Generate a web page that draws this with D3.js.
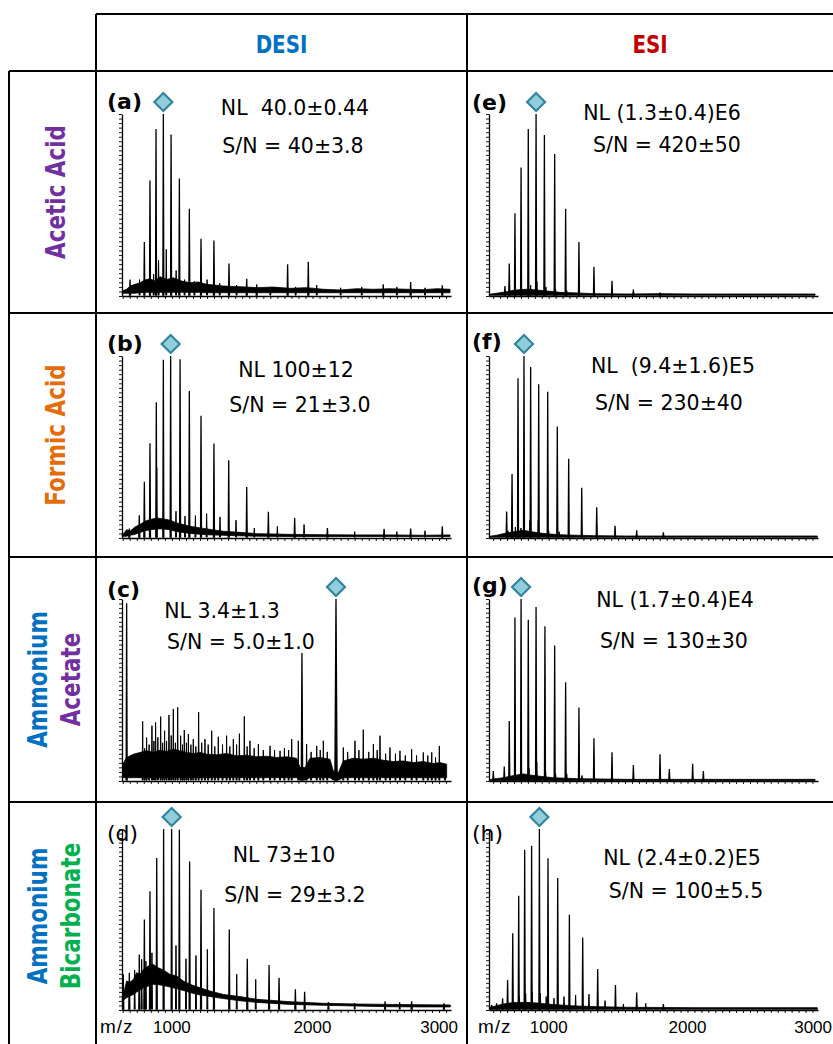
<!DOCTYPE html>
<html>
<head>
<meta charset="utf-8">
<script src="https://cdn.jsdelivr.net/npm/d3@7"></script>
<style>
  body { margin: 0; background: #fff; }
  svg { display: block; }
</style>
</head>
<body>
<svg id="chart" width="833" height="1044"></svg>
<script>
// ---- data (m/z, relative intensity %) ----
const columns = ['DESI', 'ESI'];
const rowLabels = [['Acetic Acid'], ['Formic Acid'], ['Ammonium', 'Acetate'], ['Ammonium', 'Bicarbonate']];
const xTickLabels = [1000, 2000, 3000];

// main charge-state peaks: [m/z, intensity, base width in m/z (optional)]
const peaksA = [[702, 9.1], [804, 29.6], [844, 63.4], [887, 91.8], [939, 100], [994, 88.7], [1053, 64.5], [1124, 47.9], [1207, 31.4], [1299, 30.5], [1406, 17.9], [1532, 9.5], [1603, 6.4], [1823, 17.4], [1970, 18.8], [2503, 6.4], [2698, 7.7], [2923, 5.9]];
const peaksB = [[697, 5.2], [768, 12.5], [804, 30.9], [844, 52.1], [889, 74.6], [939, 98], [991, 100], [1058, 98.2], [1124, 80.8], [1207, 67.2], [1299, 51.9], [1404, 42.7], [1532, 28], [1686, 14.4], [1873, 11], [2106, 5.5], [2509, 5], [2698, 5.2], [2923, 6.4]];
const peaksC = [[678, 97.6], [1925, 70.3, 10], [2167, 100, 16]];
const peaksD = [[654, 19.7], [697, 20.6], [768, 30.7], [804, 50], [844, 65.6], [892, 84], [941, 100], [998, 100], [1053, 99.6], [1126, 82], [1207, 66.5], [1299, 56.4], [1408, 44.5], [1536, 28.3], [1691, 24.8], [1762, 17.8], [1878, 11.4], [1944, 10.1], [2113, 4.4], [2516, 4.8], [2705, 4.8], [2935, 3.7]];
const peaksE = [[685, 5.5], [716, 17.8], [757, 45.5], [801, 70.6], [853, 91.7], [909, 100], [969, 88.4], [1043, 78], [1122, 48], [1218, 29.7], [1326, 16], [1456, 8.3], [1610, 3.5], [1802, 1.8]];
const peaksF = [[697, 14.5], [736, 35.1], [779, 87.8], [822, 100], [870, 94], [928, 84.5], [993, 80.4], [1062, 61.3], [1144, 43.6], [1238, 27.6], [1346, 16.9], [1478, 6.7], [1634, 4.2], [1826, 3.1]];
const peaksG = [[601, 5.5], [680, 7.9], [716, 33], [757, 89.9], [801, 100], [853, 88.6], [909, 95.6], [973, 85], [1043, 74.5], [1122, 54.3], [1218, 40.4], [1326, 23.5], [1456, 15.8], [1610, 8.8], [1802, 14.7], [1869, 6.6], [2037, 9.4], [2114, 5.5]];
const peaksH = [[589, 2.8], [625, 3.7], [668, 6.5], [704, 16.6], [741, 42.4], [784, 63.1], [827, 88.6], [877, 90.8], [933, 100], [995, 83.9], [1065, 72.9], [1149, 52.6], [1245, 40], [1353, 22.7], [1481, 13.8], [1634, 9.6], [1826, 3.3]];

// smaller adduct / noise spikes: [m/z, intensity]
const spikesA = [[770, 9], [870, 12], [905, 19.6], [960, 25.6], [1030, 14], [1090, 9], [1160, 8], [1250, 9], [1340, 7], [1460, 6], [1700, 5], [1880, 5], [2030, 6], [2200, 4.5], [2350, 5], [2600, 5], [2800, 4.5]];
const spikesB = [[892, 38.7], [1029, 14.7], [1093, 12], [1167, 12.3], [1247, 13.4], [1342, 11.6], [1456, 9.8], [1586, 5.5], [1750, 6.4], [1940, 7.4], [2300, 3.5], [2600, 3.5], [2800, 4]];
const spikesC = [[792, 32.8], [806, 18], [820, 23.9], [838, 20], [858, 30.4], [872, 22], [884, 32.2], [900, 24], [920, 35.4], [934, 21], [948, 27.6], [962, 22], [979, 36.3], [995, 25], [1010, 39.6], [1025, 21], [1041, 40.5], [1062, 24.9], [1075, 20], [1088, 28], [1103, 21], [1117, 25.8], [1135, 20], [1152, 23], [1170, 19], [1190, 37.8], [1212, 21], [1235, 23], [1258, 20], [1283, 27.6], [1305, 19], [1330, 24.3], [1360, 20], [1389, 24.9], [1412, 19], [1437, 23], [1460, 20], [1480, 26], [1515, 35.5], [1535, 19], [1555, 22.1], [1585, 18], [1615, 20.3], [1650, 17], [1698, 19.3], [1730, 17], [1769, 16.6], [1800, 18], [1830, 17], [1852, 23], [1899, 22.1], [1958, 20.3], [1990, 16], [2030, 19.3], [2055, 17], [2077, 22.1], [2105, 16], [2219, 18.4], [2250, 16], [2302, 22.1], [2330, 17], [2361, 28.2], [2400, 16], [2433, 20.3], [2460, 17], [2480, 24.9], [2520, 15], [2551, 18.4], [2590, 15], [2622, 16.6], [2660, 14], [2705, 17.5], [2740, 14], [2788, 15.7], [2820, 14], [2848, 15.7], [2875, 13], [2902, 19.3], [2942, 8.3]];
const spikesD = [[735, 22], [785, 28], [815, 27], [858, 31.6], [1029, 35.7], [1100, 28.3], [1171, 30.1], [1252, 33.5], [1461, 19.7], [1596, 16.9], [2300, 3.8], [2620, 4.2]];
const spikesE = [[870, 6], [915, 8], [980, 5], [1050, 3.5], [1130, 3]];
const spikesF = [[706, 4], [760, 6], [800, 5.5], [865, 9.6], [925, 9.6], [1000, 4], [1075, 3.5]];
const spikesG = [[858, 7], [914, 10.6], [978, 5], [1050, 4], [1130, 4], [1240, 3]];
const spikesH = [[789, 7.4], [834, 9.2], [880, 10], [940, 9.2], [982, 7.4], [1038, 6.5], [1110, 7.4], [1194, 8.3], [1290, 8.7], [1406, 5.2], [1538, 3.3], [1699, 3.7]];

// chemical-noise band: [m/z, lower %, upper %]
const noiseA = [[647, 1.5, 2.7], [678, 1.5, 3.7], [702, 1.5, 5.5], [737, 1.5, 6.4], [773, 1.8, 7.3], [809, 2, 8.8], [844, 2, 9.5], [880, 2, 8.2], [915, 2, 10.6], [963, 2, 9.1], [1010, 2, 10], [1069, 2, 8.2], [1129, 2, 7.3], [1188, 2, 7.7], [1247, 1.8, 6.4], [1318, 1.8, 5.9], [1366, 1.8, 5.5], [1484, 1.8, 5.1], [1603, 1.8, 4.6], [1721, 1.8, 4.9], [1840, 1.8, 4.2], [1958, 1.8, 4.6], [2077, 1.8, 3.7], [2196, 1.8, 3.3], [2314, 1.8, 4], [2433, 1.8, 3.7], [2551, 1.8, 4], [2670, 1.8, 3.7], [2788, 1.8, 3.5], [2883, 1.8, 4], [2978, 1.8, 3.7]];
const noiseB = [[647, 0.8, 1.5], [678, 1, 4.6], [702, 1.5, 3.7], [737, 2, 6.1], [773, 3, 7.4], [809, 4, 9.2], [844, 4.5, 10.1], [892, 5, 11], [939, 5, 10.5], [986, 4.5, 9.8], [1034, 3.5, 8.3], [1081, 3, 7.4], [1129, 2.5, 6.4], [1247, 1.8, 5], [1366, 1.5, 3.7], [1484, 1.2, 3.1], [1603, 1, 2.4], [1840, 0.8, 2], [2077, 0.8, 1.8], [2314, 0.8, 1.7], [2551, 0.8, 1.7], [2788, 0.8, 1.5], [2978, 0.8, 1.7]];
const noiseC = [[650, 1.8, 9.2], [678, 1.8, 12.9], [726, 1.8, 14.7], [773, 1.8, 15.7], [820, 1.8, 16.6], [868, 1.8, 15.7], [915, 1.8, 16.9], [963, 1.8, 16.2], [1010, 1.8, 17.5], [1058, 1.8, 16.6], [1105, 1.8, 15.7], [1152, 1.8, 15.1], [1200, 1.8, 15.7], [1247, 1.8, 14.7], [1318, 1.8, 14.4], [1389, 1.8, 15.1], [1461, 1.8, 13.8], [1532, 1.8, 14.2], [1603, 1.8, 13.3], [1674, 1.8, 13.6], [1745, 1.8, 12.9], [1816, 1.8, 13.3], [1887, 1.8, 12.5], [1911, 0.5, 7.4], [1947, 0.5, 7.4], [1982, 1.8, 12.5], [2053, 1.8, 12.9], [2124, 1.8, 12], [2148, 0.5, 5.5], [2184, 0.5, 4.6], [2219, 1.8, 11], [2290, 1.8, 12.5], [2361, 1.8, 12], [2433, 1.8, 12.5], [2504, 1.8, 11.4], [2575, 1.8, 10.7], [2646, 1.8, 11], [2717, 1.8, 10.1], [2788, 1.8, 10.7], [2859, 1.8, 9.6], [2907, 1.8, 10.1], [2954, 1.8, 9.2]];
const noiseD = [[647, 5, 5.9], [678, 6.8, 16], [702, 7.7, 15.4], [726, 8.6, 16.9], [749, 9.9, 20.6], [773, 11, 19.7], [797, 12.3, 22.4], [832, 13.2, 24.3], [868, 14.2, 25.2], [903, 14, 23.3], [939, 13.6, 22.1], [986, 12.7, 19.7], [1034, 11.8, 18.8], [1081, 10.8, 16], [1129, 9.6, 14.2], [1200, 8.3, 12.3], [1271, 7.4, 10.5], [1366, 6.3, 8.6], [1484, 5.1, 7.4], [1603, 4.2, 5.9], [1840, 3.1, 4.6], [2077, 2.6, 3.7], [2314, 2.2, 3.3], [2551, 1.8, 3.1], [2788, 1.7, 2.9], [2980, 1.7, 2.8]];
const noiseE = [[572, 0.4, 0.9], [601, 0.4, 1.3], [649, 0.4, 1.8], [697, 0.4, 2.4], [745, 0.4, 3.1], [793, 0.4, 3.5], [841, 0.4, 3.7], [889, 0.4, 3.5], [937, 0.4, 3.1], [1009, 0.4, 2.6], [1082, 0.4, 2], [1202, 0.4, 1.7], [1322, 0.4, 1.3], [1562, 0.4, 1.1], [1802, 0.4, 1.3], [2042, 0.4, 1.1], [2282, 0.4, 1.1], [2522, 0.4, 1.1], [2763, 0.4, 1.1], [2919, 0.4, 1.1]];
const noiseF = [[572, 0.4, 0.9], [625, 0.4, 1.5], [673, 0.4, 2.4], [721, 0.4, 3.1], [769, 0.4, 3.6], [817, 0.4, 4.2], [865, 0.4, 3.6], [937, 0.4, 2.7], [1009, 0.4, 2.2], [1082, 0.4, 1.8], [1202, 0.4, 1.5], [1322, 0.4, 1.3], [1562, 0.4, 1.1], [2042, 0.4, 1.1], [2522, 0.4, 1.1], [2935, 0.4, 1.1]];
const noiseG = [[572, 0.3, 0.6], [601, 0.3, 1.1], [673, 0.3, 1.8], [721, 0.3, 2.6], [769, 0.3, 3.3], [817, 0.3, 3.9], [865, 0.3, 3.3], [937, 0.3, 2.6], [1033, 0.3, 1.8], [1202, 0.3, 1.3], [1562, 0.3, 0.9], [2042, 0.3, 0.9], [2522, 0.3, 0.9], [2919, 0.3, 0.9]];
const noiseH = [[577, 0.4, 1.5], [625, 0.4, 2.4], [673, 0.4, 3.3], [721, 0.4, 3.9], [769, 0.4, 4.2], [841, 0.4, 4.2], [913, 0.4, 3.9], [985, 0.4, 3.3], [1082, 0.4, 2.8], [1202, 0.4, 2.2], [1370, 0.4, 1.8], [1562, 0.4, 1.5], [2042, 0.4, 1.3], [2522, 0.4, 1.3], [2935, 0.4, 1.3]];

const panelLetters = ['a', 'b', 'c', 'd', 'e', 'f', 'g', 'h'];
const nlTexts = ['NL  40.0±0.44', 'NL 100±12', 'NL 3.4±1.3', 'NL 73±10', 'NL (1.3±0.4)E6', 'NL  (9.4±1.6)E5', 'NL (1.7±0.4)E4', 'NL (2.4±0.2)E5'];
const snTexts = ['S/N = 40±3.8', 'S/N = 21±3.0', 'S/N = 5.0±1.0', 'S/N = 29±3.2', 'S/N = 420±50', 'S/N = 230±40', 'S/N = 130±30', 'S/N = 100±5.5'];
const diamondMz = [939, 991, 2167, 998, 909, 822, 801, 933];
const allPeaks = [peaksA, peaksB, peaksC, peaksD, peaksE, peaksF, peaksG, peaksH];
const allSpikes = [spikesA, spikesB, spikesC, spikesD, spikesE, spikesF, spikesG, spikesH];
const allNoise = [noiseA, noiseB, noiseC, noiseD, noiseE, noiseF, noiseG, noiseH];

// ---- layout ----
const gridX = [9, 96, 467];
const W = 833, H = 1044;
const headerTop = 14, headerBottom = 71;
const rowLines = [313, 557, 802];
const axisBase = [296, 538, 781, 1010];
const axisTop = [114, 356, 599, 829];
const colAxis = [{ x0: 122, x1: 451, dom: [645, 2985] }, { x0: 489, x1: 818, dom: [570, 2940] }];
// text anchors per panel: [letterX, letterY, nlX, nlY, snX, snY]
const textPos = [
  [107, 109, 295, 115, 293, 153],
  [107, 351, 296, 377, 300, 412],
  [107, 597, 222, 618, 241, 649],
  [107, 841, 284, 862, 295, 902],
  [472, 110, 662, 120, 667, 152],
  [472, 349, 673, 373, 669, 410],
  [472, 593, 675, 607, 674, 648],
  [472, 841, 682, 865, 686, 898],
];
const rowColors = [['#7030a0'], ['#e46c0a'], ['#0070c0', '#7030a0'], ['#0070c0', '#00b050']];
const colColors = ['#0070c0', '#c00000'];
const labelFont = '"DejaVu Sans Condensed", "Liberation Sans Narrow", sans-serif';
const textFont = '"DejaVu Sans", "Noto Sans", sans-serif';
const axisFont = '"Liberation Sans", Arial, sans-serif';

const svg = d3.select('#chart');

// grid
const grid = svg.append('g').attr('stroke', '#000').attr('stroke-width', 2).attr('fill', 'none');
grid.append('line').attr('x1', gridX[1]).attr('x2', W).attr('y1', headerTop).attr('y2', headerTop);
grid.append('line').attr('x1', gridX[0]).attr('x2', W).attr('y1', headerBottom).attr('y2', headerBottom);
rowLines.forEach((y) => grid.append('line').attr('x1', gridX[0]).attr('x2', W).attr('y1', y).attr('y2', y));
grid.append('line').attr('x1', gridX[0]).attr('x2', gridX[0]).attr('y1', headerBottom).attr('y2', H);
grid.append('line').attr('x1', gridX[1]).attr('x2', gridX[1]).attr('y1', headerTop).attr('y2', H);
grid.append('line').attr('x1', gridX[2]).attr('x2', gridX[2]).attr('y1', headerTop).attr('y2', H);

// column headers
columns.forEach((c, i) => {
  const cx = (gridX[i + 1] + (i === 0 ? gridX[2] : W)) / 2;
  svg.append('text').attr('transform', `translate(${cx},53) scale(0.92,1)`)
    .attr('text-anchor', 'middle').attr('font-family', labelFont).attr('font-weight', 'bold')
    .attr('font-size', 24).attr('fill', colColors[i]).text(c);
});

// row labels
const rowEdges = [headerBottom, ...rowLines, 1030];
rowLabels.forEach((lines, r) => {
  const cy = (rowEdges[r] + rowEdges[r + 1]) / 2;
  const xs = lines.length === 1 ? [65] : [47, 80];
  lines.forEach((t, k) => {
    svg.append('text').attr('transform', `translate(${xs[k]},${cy}) rotate(-90) scale(0.92,1)`)
      .attr('text-anchor', 'middle').attr('font-family', labelFont).attr('font-weight', 'bold')
      .attr('font-size', 26).attr('fill', rowColors[r][k]).text(t);
  });
});

// panels
panelLetters.forEach((letter, i) => {
  const col = i < 4 ? 0 : 1;
  const row = i % 4;
  const ca = colAxis[col];
  const x = d3.scaleLinear(ca.dom, [ca.x0, ca.x1]);
  const y = d3.scaleLinear([0, 100], [axisBase[row], axisTop[row]]);
  const g = svg.append('g');

  // noise band
  g.append('path').datum(allNoise[i])
    .attr('d', d3.area().x((d) => x(d[0])).y0((d) => y(d[1])).y1((d) => y(d[2])))
    .attr('fill', '#000').attr('stroke', '#000').attr('stroke-width', 0.8);

  // spikes and peaks
  const peakPath = (d) => {
    const w = d[2] ? (x(d[0] + d[2] / 2) - x(d[0])) : 0.5;
    return `M${x(d[0]) - w},${y(0.5)}L${x(d[0])},${y(d[1])}L${x(d[0]) + w},${y(0.5)}Z`;
  };
  g.selectAll('path.spike').data(allSpikes[i]).join('path').attr('class', 'spike')
    .attr('d', peakPath).attr('fill', '#000').attr('stroke', '#000').attr('stroke-width', 1);
  g.selectAll('path.peak').data(allPeaks[i]).join('path').attr('class', 'peak')
    .attr('d', peakPath).attr('fill', '#000').attr('stroke', '#000').attr('stroke-width', 1.3);

  // axes
  const xAxis = d3.axisBottom(x).tickValues(d3.range(Math.ceil(ca.dom[0] / 50) * 50, ca.dom[1], 50))
    .tickSize(3).tickSizeOuter(0).tickFormat('');
  const yAxis = d3.axisLeft(y).tickValues(d3.range(0, 100.1, 2.5)).tickSize(3).tickSizeOuter(0).tickFormat('');
  const xa = g.append('g').attr('transform', `translate(0,${axisBase[row]})`).call(xAxis);
  const ya = g.append('g').attr('transform', `translate(${ca.x0},0)`).call(yAxis);
  [xa, ya].forEach((a) => {
    a.select('.domain').attr('stroke', '#000').attr('stroke-width', 1.3);
    a.selectAll('.tick line').attr('stroke', '#000').attr('stroke-width', 0.9);
  });

  // x labels only on bottom row
  if (row === 3) {
    g.append('text').attr('x', col === 0 ? 100 : 478).attr('y', 1033)
      .attr('font-family', axisFont).attr('font-size', 19).attr('letter-spacing', 1).text('m/z');
    xTickLabels.forEach((v, k) => {
      const last = k === xTickLabels.length - 1;
      const lx = last ? (col === 0 ? ca.x1 + 7 : W - 1) : x(v);
      g.append('text').attr('x', lx).attr('y', 1033)
        .attr('text-anchor', last ? 'end' : 'middle')
        .attr('font-family', axisFont).attr('font-size', 17).text(v);
    });
  }

  // diamond marker
  g.append('path').attr('transform', `translate(${x(diamondMz[i])},${y(100) - 12})`)
    .attr('d', 'M0,-9L9,0L0,9L-9,0Z').attr('fill', '#92cddc').attr('stroke', '#31859c').attr('stroke-width', 2.2);

  // texts
  const p = textPos[i];
  g.append('text').attr('x', p[0]).attr('y', p[1]).attr('font-family', textFont)
    .attr('font-weight', row === 3 ? 'normal' : 'bold').attr('font-size', 22).text(`(${letter})`);
  g.append('text').attr('x', p[2]).attr('y', p[3]).attr('text-anchor', 'middle').attr('font-family', textFont)
    .attr('font-size', 20.5).style('white-space', 'pre').text(nlTexts[i]);
  g.append('text').attr('x', p[4]).attr('y', p[5]).attr('text-anchor', 'middle').attr('font-family', textFont)
    .attr('font-size', 20.5).style('white-space', 'pre').text(snTexts[i]);
});
</script>
</body>
</html>
